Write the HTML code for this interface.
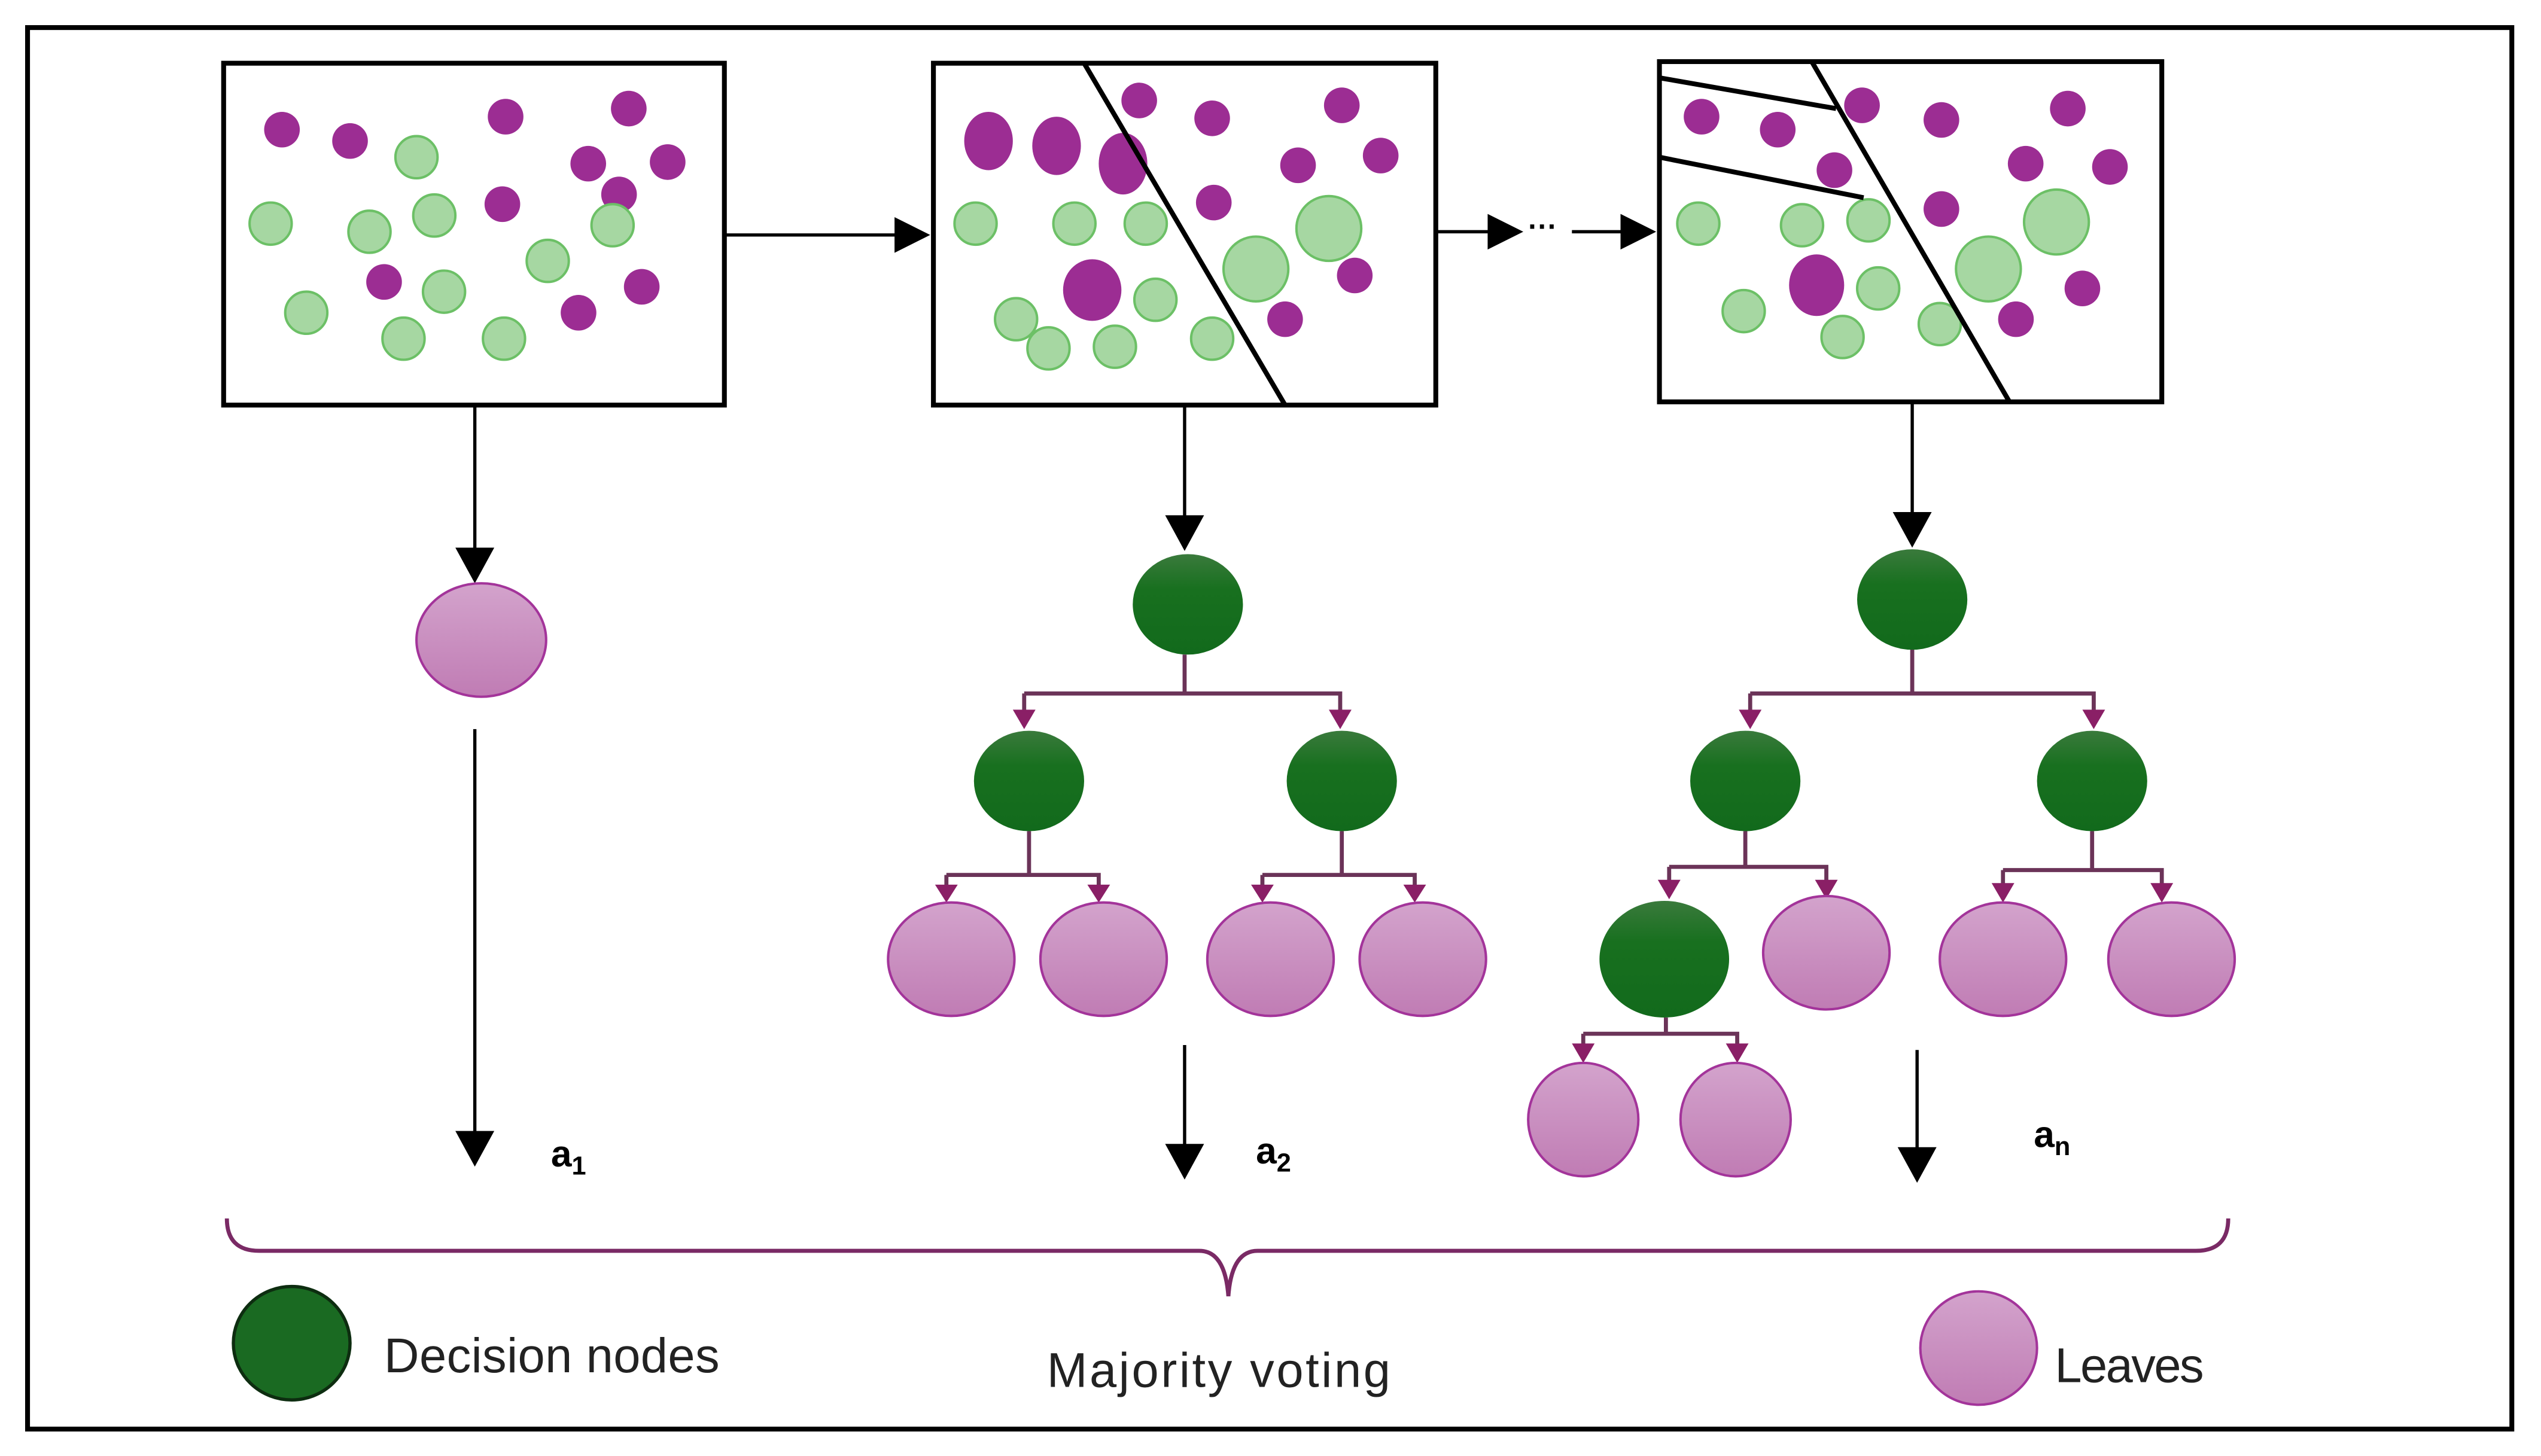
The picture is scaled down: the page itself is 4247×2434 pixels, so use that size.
<!DOCTYPE html>
<html><head><meta charset="utf-8"><style>html,body{margin:0;padding:0;background:#fff}svg{display:block}</style></head>
<body>
<svg width="4247" height="2434" viewBox="0 0 1568 898.6" xmlns="http://www.w3.org/2000/svg" font-family="Liberation Sans, sans-serif">
<defs>
<linearGradient id="dg" x1="0" y1="0" x2="0" y2="1"><stop offset="0" stop-color="#3a7a3c"/><stop offset="0.35" stop-color="#18701f"/><stop offset="1" stop-color="#126a1c"/></linearGradient>
<linearGradient id="lg" x1="0" y1="0" x2="0" y2="1"><stop offset="0" stop-color="#d3a3cc"/><stop offset="1" stop-color="#c07cb4"/></linearGradient>
</defs>
<rect x="17" y="17" width="1533" height="865" fill="#fff" stroke="#000" stroke-width="3"/>
<g fill="none" stroke="#000" stroke-width="3">
<rect x="138" y="39" width="309" height="211"/>
<rect x="576" y="39" width="310" height="211"/>
<rect x="1024" y="38" width="310" height="210"/>
</g>
<g fill="#9c2d93">
<circle cx="174" cy="80" r="11"/><circle cx="216" cy="87" r="11"/><circle cx="312" cy="72" r="11"/><circle cx="388" cy="67" r="11"/><circle cx="363" cy="101" r="11"/><circle cx="412" cy="100" r="11"/><circle cx="382" cy="120" r="11"/><circle cx="310" cy="126" r="11"/><circle cx="237" cy="174" r="11"/><circle cx="357" cy="193" r="11"/><circle cx="396" cy="177" r="11"/>
<ellipse cx="610" cy="87" rx="15" ry="18"/><ellipse cx="652" cy="90" rx="15" ry="18"/><ellipse cx="693" cy="101" rx="15" ry="19"/><ellipse cx="674" cy="179" rx="18" ry="19"/>
<circle cx="703" cy="62" r="11"/><circle cx="748" cy="73" r="11"/><circle cx="828" cy="65" r="11"/><circle cx="801" cy="102" r="11"/><circle cx="852" cy="96" r="11"/><circle cx="749" cy="125" r="11"/><circle cx="836" cy="170" r="11"/><circle cx="793" cy="197" r="11"/>
<circle cx="1050" cy="72" r="11"/><circle cx="1097" cy="80" r="11"/><circle cx="1149" cy="65" r="11"/><circle cx="1198" cy="74" r="11"/><circle cx="1276" cy="67" r="11"/><circle cx="1250" cy="101" r="11"/><circle cx="1302" cy="103" r="11"/><circle cx="1132" cy="105" r="11"/><circle cx="1198" cy="129" r="11"/><circle cx="1285" cy="178" r="11"/><circle cx="1244" cy="197" r="11"/><ellipse cx="1121" cy="176" rx="17" ry="19"/>
</g>
<g fill="#a6d7a2" stroke="#6cc066" stroke-width="1.5">
<circle cx="257" cy="97" r="13"/><circle cx="167" cy="138" r="13"/><circle cx="228" cy="143" r="13"/><circle cx="268" cy="133" r="13"/><circle cx="338" cy="161" r="13"/><circle cx="378" cy="139" r="13"/><circle cx="274" cy="180" r="13"/><circle cx="189" cy="193" r="13"/><circle cx="249" cy="209" r="13"/><circle cx="311" cy="209" r="13"/>
<circle cx="602" cy="138" r="13"/><circle cx="663" cy="138" r="13"/><circle cx="707" cy="138" r="13"/><circle cx="713" cy="185" r="13"/><circle cx="627" cy="197" r="13"/><circle cx="647" cy="215" r="13"/><circle cx="688" cy="214" r="13"/><circle cx="748" cy="209" r="13"/><circle cx="775" cy="166" r="20"/><circle cx="820" cy="141" r="20"/>
<circle cx="1048" cy="138" r="13"/><circle cx="1112" cy="139" r="13"/><circle cx="1153" cy="136" r="13"/><circle cx="1159" cy="178" r="13"/><circle cx="1076" cy="192" r="13"/><circle cx="1137" cy="208" r="13"/><circle cx="1197" cy="200" r="13"/><circle cx="1227" cy="166" r="20"/><circle cx="1269" cy="137" r="20"/>
</g>
<g stroke="#000" stroke-width="3" fill="none">
<line x1="669" y1="39" x2="793" y2="250"/>
<line x1="1024" y1="48" x2="1133" y2="67"/>
<line x1="1024" y1="97" x2="1150" y2="122"/>
<line x1="1118" y1="38" x2="1240" y2="248"/>
</g>
<g stroke="#000" stroke-width="2" fill="none">
<line x1="447" y1="145" x2="556" y2="145"/>
<line x1="886" y1="143" x2="920" y2="143"/>
<line x1="970" y1="143" x2="1002" y2="143"/>
<line x1="293" y1="250" x2="293" y2="340"/>
<line x1="293" y1="450" x2="293" y2="700"/>
<line x1="731" y1="250" x2="731" y2="320"/>
<line x1="731" y1="645" x2="731" y2="708"/>
<line x1="1180" y1="248" x2="1180" y2="318"/>
<line x1="1183" y1="648" x2="1183" y2="710"/>
</g>
<g fill="#000"><path d="M281,338 L305,338 L293,360z"/><path d="M281,698 L305,698 L293,720z"/><path d="M719,318 L743,318 L731,340z"/><path d="M719,706 L743,706 L731,728z"/><path d="M1168,316 L1192,316 L1180,338z"/><path d="M1171,708 L1195,708 L1183,730z"/><path d="M918,132 L940,143 L918,154z"/><path d="M1000,132 L1022,143 L1000,154z"/><path d="M552,134 L574,145 L552,156z"/></g>
<text x="943" y="146" font-size="18" font-weight="bold">···</text>
<g stroke="#6b3358" stroke-width="2.5" fill="none">
<path d="M731,404 V428 M632,428 H827 V440 M632,428 V440"/>
<path d="M635,513 V540 M584,540 H678 V548 M584,540 V548"/>
<path d="M828,513 V540 M779,540 H873 V548 M779,540 V548"/>
<path d="M1180,400 V428 M1080,428 H1292 V440 M1080,428 V440"/>
<path d="M1077,513 V535 M1030,535 H1127 V545 M1030,535 V545"/>
<path d="M1291,513 V537 M1236,537 H1334 V547 M1236,537 V547"/>
<path d="M1028,628 V638 M977,638 H1072 V646 M977,638 V646"/>
</g>
<g fill="#8a1f66">
<path d="M625,438 L639,438 L632,450z"/><path d="M820,438 L834,438 L827,450z"/>
<path d="M577,546 L591,546 L584,557z"/><path d="M671,546 L685,546 L678,557z"/><path d="M772,546 L786,546 L779,557z"/><path d="M866,546 L880,546 L873,557z"/>
<path d="M1073,438 L1087,438 L1080,450z"/><path d="M1285,438 L1299,438 L1292,450z"/>
<path d="M1023,543 L1037,543 L1030,555z"/><path d="M1120,543 L1134,543 L1127,555z"/>
<path d="M1229,545 L1243,545 L1236,557z"/><path d="M1327,545 L1341,545 L1334,557z"/>
<path d="M970,644 L984,644 L977,656z"/><path d="M1065,644 L1079,644 L1072,656z"/>
</g>
<g fill="url(#dg)">
<ellipse cx="733" cy="373" rx="34" ry="31"/><ellipse cx="635" cy="482" rx="34" ry="31"/><ellipse cx="828" cy="482" rx="34" ry="31"/>
<ellipse cx="1180" cy="370" rx="34" ry="31"/><ellipse cx="1077" cy="482" rx="34" ry="31"/><ellipse cx="1291" cy="482" rx="34" ry="31"/>
<ellipse cx="1027" cy="592" rx="40" ry="36"/>
</g>
<g fill="url(#lg)" stroke="#a3349a" stroke-width="1.5">
<ellipse cx="297" cy="395" rx="40" ry="35"/>
<ellipse cx="587" cy="592" rx="39" ry="35"/><ellipse cx="681" cy="592" rx="39" ry="35"/><ellipse cx="784" cy="592" rx="39" ry="35"/><ellipse cx="878" cy="592" rx="39" ry="35"/>
<ellipse cx="1127" cy="588" rx="39" ry="35"/><ellipse cx="1236" cy="592" rx="39" ry="35"/><ellipse cx="1340" cy="592" rx="39" ry="35"/>
<ellipse cx="977" cy="691" rx="34" ry="35"/><ellipse cx="1071" cy="691" rx="34" ry="35"/>
<ellipse cx="1221" cy="832" rx="36" ry="35"/>
</g>
<ellipse cx="180" cy="829" rx="36" ry="35" fill="#1a6a22" stroke="#0d2d10" stroke-width="2"/>
<g font-weight="bold" font-size="23"><text x="340" y="720">a<tspan font-size="16" dy="5">1</tspan></text><text x="775" y="718">a<tspan font-size="16" dy="5">2</tspan></text><text x="1255" y="708">a<tspan font-size="16" dy="5">n</tspan></text></g>
<path d="M140,752 Q140,772 160,772 H740 Q756,772 758,800 Q760,772 776,772 H1355 Q1375,772 1375,752" fill="none" stroke="#7a2a65" stroke-width="2.5"/>
<g font-size="30" fill="#222"><text x="237" y="847" textLength="207">Decision nodes</text><text x="646" y="856" textLength="212">Majority voting</text><text x="1268" y="853" textLength="92">Leaves</text></g>
</svg>
</body></html>
